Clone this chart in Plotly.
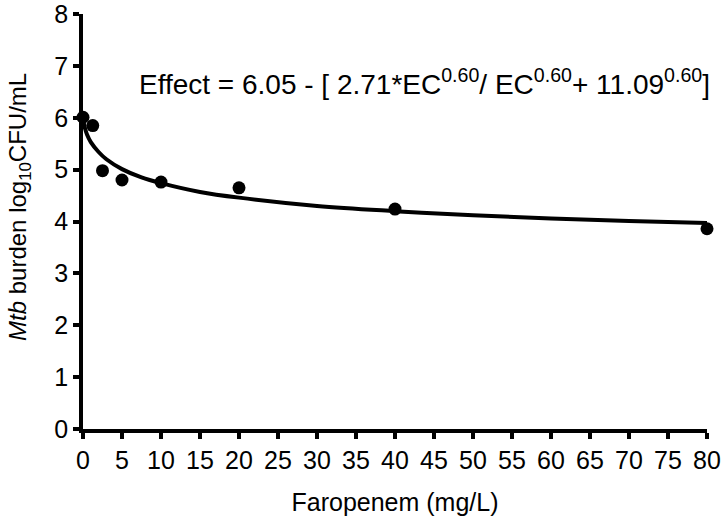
import plotly.graph_objects as go

# observed Mtb burden (log10 CFU/mL) at each faropenem concentration
conc = [0, 1.25, 2.5, 5, 10, 20, 40, 80]
burden = [6.01, 5.85, 4.98, 4.80, 4.76, 4.65, 4.24, 3.86]

# fitted Emax curve
fit_x = [0, 0.1, 0.25, 0.5, 1, 2, 3, 5, 7.5, 10, 15, 20, 30, 40, 50, 60, 70, 80]
fit_y = [6.05, 5.90, 5.80, 5.68, 5.53, 5.34, 5.20, 5.01, 4.85, 4.74, 4.57, 4.46,
         4.30, 4.20, 4.12, 4.06, 4.01, 3.97]

equation = ("Effect = 6.05 - [ 2.71*EC<sup>0.60</sup>/ EC<sup>0.60</sup>"
            "+ 11.09<sup>0.60</sup>]")

FONT = "Liberation Sans, Arial, sans-serif"

fig = go.Figure()

fig.add_trace(go.Scatter(
    x=fit_x, y=fit_y,
    mode="lines",
    line=dict(color="black", width=4, shape="spline"),
    showlegend=False,
))

fig.add_trace(go.Scatter(
    x=conc, y=burden,
    mode="markers",
    marker=dict(color="black", size=13),
    showlegend=False,
    cliponaxis=False,
))

fig.add_annotation(
    x=6.9, y=6.69, xref="x", yref="y",
    xanchor="left", yanchor="middle",
    text=equation, showarrow=False,
    font=dict(size=28, color="black", family=FONT),
)

# y title placed by hand so it sits where the original has it
fig.add_annotation(
    x=-0.101, y=0.535, xref="paper", yref="paper",
    xanchor="center", yanchor="middle", textangle=-90,
    text="<i>Mtb</i> burden log<sub>10</sub>CFU/mL", showarrow=False,
    font=dict(size=24, color="black", family=FONT),
)

axis_style = dict(
    showline=True, linecolor="black", linewidth=3.5,
    ticks="outside", tickwidth=3.5, ticklen=6, tickcolor="black",
    showgrid=False, zeroline=False, automargin=False,
    ticklabeloverflow="allow",
    tickfont=dict(size=25, color="black", family=FONT),
)

fig.update_xaxes(
    range=[0, 80], tickmode="linear", tick0=0, dtick=5,
    title=dict(text="Faropenem (mg/L)", font=dict(size=25, color="black", family=FONT),
               standoff=22),
    **axis_style,
)
fig.update_yaxes(
    range=[0, 8], tickmode="linear", tick0=0, dtick=1,
    **axis_style,
)

fig.update_layout(
    width=724, height=519,
    margin=dict(l=83, r=17, t=14, b=90),
    plot_bgcolor="white", paper_bgcolor="white",
    font=dict(family=FONT, color="black"),
)

fig.write_html("out.html", config={"displayModeBar": False},
               post_script="document.body.style.margin = '0';")
